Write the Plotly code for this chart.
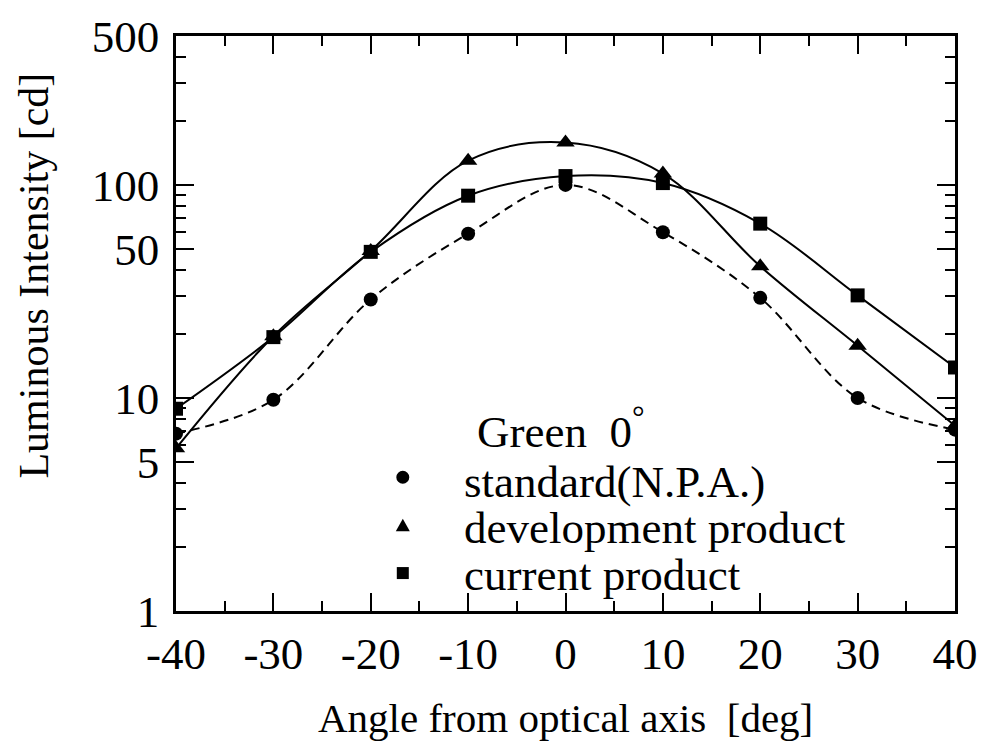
import math
import plotly.graph_objects as go

# Angular luminous-intensity profile, green LED at 0 deg
angle = [-40, -30, -20, -10, 0, 10, 20, 30, 40]
standard_npa = [6.8, 9.8, 29, 59, 100, 60, 29.5, 10, 7.1]
development = [5.8, 19.5, 49, 130, 158, 113, 41.5, 17.6, 7.4]
current = [8.9, 19.3, 48.5, 89, 110, 102, 65.8, 30.3, 13.9]

series_names = ["standard(N.P.A.)", "development product", "current product"]
legend_heading = "Green  0<sup>°</sup>"

x_ticks = [-40, -30, -20, -10, 0, 10, 20, 30, 40]
x_minor = [-35, -25, -15, -5, 5, 15, 25, 35]
y_ticks = [1, 5, 10, 50, 100, 500]
y_minor = [2, 3, 4, 6, 7, 8, 9, 20, 30, 40, 60, 70, 80, 90, 200, 300, 400]

FONT = "Liberation Serif, Times New Roman, serif"
INK = "black"

W, H = 990, 749
L, R, T, B = 176, 24, 35, 138
plot_w = W - L - R
plot_h = H - T - B


def px_to_paper(px, py):
    return (px - L) / plot_w, (H - B - py) / plot_h


fig = go.Figure()

fig.add_trace(go.Scatter(
    x=angle, y=standard_npa, name=series_names[0], mode="lines+markers",
    line=dict(color=INK, width=2, dash="9px,6px", shape="spline", smoothing=1.0),
    marker=dict(symbol="circle", size=14, color=INK),
    showlegend=False,
))
fig.add_trace(go.Scatter(
    x=angle, y=development, name=series_names[1], mode="lines+markers",
    line=dict(color=INK, width=2, shape="spline", smoothing=1.0),
    marker=dict(symbol="triangle-up", size=16, color=INK),
    showlegend=False,
))
fig.add_trace(go.Scatter(
    x=angle, y=current, name=series_names[2], mode="lines+markers",
    line=dict(color=INK, width=2, shape="spline", smoothing=1.0),
    marker=dict(symbol="square", size=14, color=INK),
    showlegend=False,
))

axis_common = dict(
    showline=True, linewidth=2.5, linecolor=INK, mirror="ticks",
    ticks="inside", tickwidth=2, tickcolor=INK, ticklen=18,
    showgrid=False, zeroline=False,
    tickfont=dict(family=FONT, size=45, color=INK),
)

fig.update_xaxes(
    range=[-40, 40], tickmode="array", tickvals=x_ticks,
    ticktext=[str(v) for v in x_ticks], ticklabelstandoff=1,
    minor=dict(tickmode="array", tickvals=x_minor, ticks="inside",
               ticklen=10, tickwidth=2, tickcolor=INK, showgrid=False),
    **axis_common,
)
fig.update_yaxes(
    type="log", range=[0, math.log10(500)], tickmode="array", tickvals=y_ticks,
    ticktext=[str(v) for v in y_ticks], ticklabelstandoff=5,
    minor=dict(tickmode="array", tickvals=y_minor, ticks="inside",
               ticklen=10, tickwidth=2, tickcolor=INK, showgrid=False),
    **axis_common,
)

annotations = [
    dict(text="Angle from optical axis  [deg]", xref="paper", yref="paper",
         x=0.5, y=px_to_paper(0, 718)[1], xanchor="center", yanchor="middle",
         showarrow=False, font=dict(family=FONT, size=41, color=INK)),
    dict(text="Luminous Intensity [cd]", xref="paper", yref="paper",
         x=px_to_paper(32, 0)[0], y=px_to_paper(0, 275)[1], textangle=-90,
         xanchor="center", yanchor="middle",
         showarrow=False, font=dict(family=FONT, size=42, color=INK)),
]

# legend block drawn inside the plot area
key_x = 406
text_x = 466
key_y = [477, 525, 573]
text_y = [482, 528, 575]
hx, hy = px_to_paper(479, 428)
annotations.append(dict(text=legend_heading, xref="paper", yref="paper",
                        x=hx, y=hy, xanchor="left", yanchor="middle",
                        showarrow=False,
                        font=dict(family=FONT, size=45, color=INK)))
for name, ry in zip(series_names, text_y):
    tx, ty = px_to_paper(text_x, ry)
    annotations.append(dict(text=name, xref="paper", yref="paper",
                            x=tx, y=ty, xanchor="left", yanchor="middle",
                            showarrow=False,
                            font=dict(family=FONT, size=45, color=INK)))

shapes = []
for symbol, ry in zip(["circle", "triangle", "square"], key_y):
    ax, ay = px_to_paper(key_x, ry)
    base = dict(xref="paper", yref="paper", xsizemode="pixel", ysizemode="pixel",
                xanchor=ax, yanchor=ay, fillcolor=INK, line=dict(width=0))
    if symbol == "circle":
        shapes.append(dict(type="circle", x0=-6.5, x1=6.5, y0=-6.5, y1=6.5, **base))
    elif symbol == "square":
        shapes.append(dict(type="rect", x0=-6, x1=6, y0=-6, y1=6, **base))
    else:
        shapes.append(dict(type="path", path="M -7,-6 L 7,-6 L 0,6.5 Z", **base))

fig.update_layout(
    width=W, height=H,
    margin=dict(l=L, r=R, t=T, b=B),
    paper_bgcolor="white", plot_bgcolor="white",
    font=dict(family=FONT, color=INK),
    annotations=annotations, shapes=shapes,
)

fig.write_html("out.html")
